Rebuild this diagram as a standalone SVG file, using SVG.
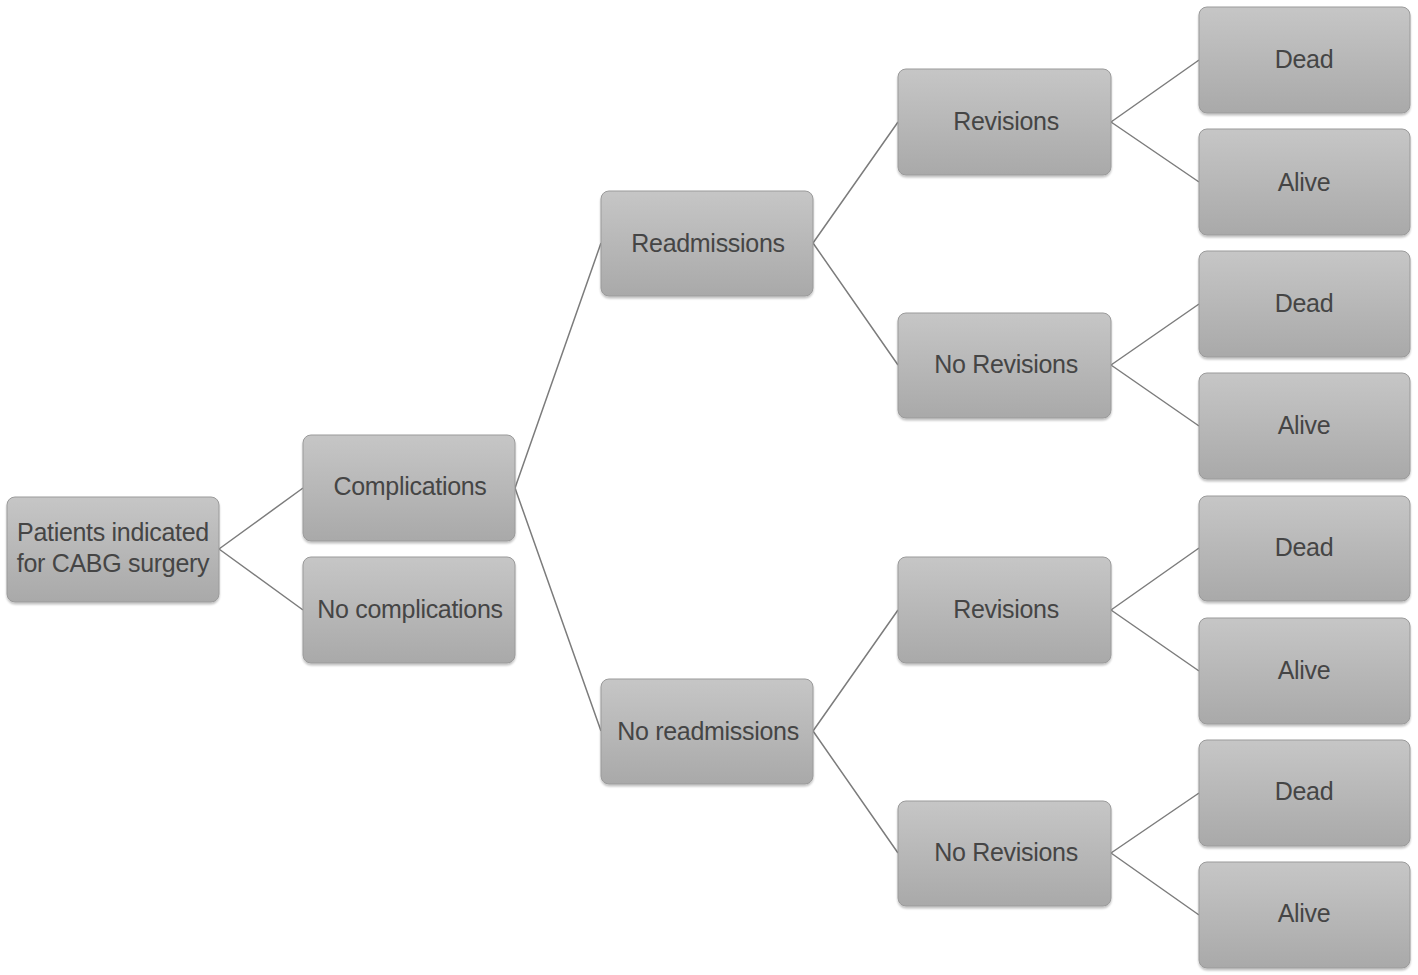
<svg xmlns="http://www.w3.org/2000/svg" width="1418" height="975" viewBox="0 0 1418 975">
<defs>
<linearGradient id="g" x1="0" y1="0" x2="0" y2="1">
<stop offset="0" stop-color="#c6c6c6"/>
<stop offset="1" stop-color="#a9a9a9"/>
</linearGradient>
<filter id="sh" x="-5%" y="-5%" width="110%" height="115%">
<feGaussianBlur in="SourceAlpha" stdDeviation="1.2"/>
<feOffset dx="0" dy="1.5"/>
<feComponentTransfer><feFuncA type="linear" slope="0.25"/></feComponentTransfer>
<feMerge><feMergeNode/><feMergeNode in="SourceGraphic"/></feMerge>
</filter>
</defs>
<style>
.box{fill:url(#g);stroke:#9a9a9a;stroke-width:1;filter:url(#sh)}
.t{font-family:"Liberation Sans",Arial,sans-serif;font-size:25px;fill:#454545;text-anchor:middle;letter-spacing:-0.3px}
.c{stroke:#7c7c7c;stroke-width:1.5;fill:none}
</style>
<rect width="1418" height="975" fill="#ffffff"/>
<g id="connectors">
<path class="c" d="M219 549L303 488M219 549L303 610"/>
<path class="c" d="M515 488L601 243M515 488L601 731"/>
<path class="c" d="M813 243L898 122M813 243L898 365"/>
<path class="c" d="M813 731L898 610M813 731L898 853"/>
<path class="c" d="M1111 122L1199 60M1111 122L1199 182"/>
<path class="c" d="M1111 365L1199 304M1111 365L1199 426"/>
<path class="c" d="M1111 610L1199 548M1111 610L1199 671"/>
<path class="c" d="M1111 853L1199 793M1111 853L1199 915"/>
</g>
<g id="n-root"><rect class="box" x="7" y="497" width="212" height="105" rx="8"/><text class="t" x="113" y="541">Patients indicated</text><text class="t" x="113" y="572">for CABG surgery</text></g>
<g id="n-comp"><rect class="box" x="303" y="435" width="212" height="106" rx="8"/><text class="t" x="410" y="495">Complications</text></g>
<g id="n-nocomp"><rect class="box" x="303" y="557" width="212" height="106" rx="8"/><text class="t" x="410" y="618">No complications</text></g>
<g id="n-readm"><rect class="box" x="601" y="191" width="212" height="105" rx="8"/><text class="t" x="708" y="252">Readmissions</text></g>
<g id="n-noreadm"><rect class="box" x="601" y="679" width="212" height="105" rx="8"/><text class="t" x="708" y="740">No readmissions</text></g>
<g id="n-rev1"><rect class="box" x="898" y="69" width="213" height="106" rx="8"/><text class="t" x="1006" y="130">Revisions</text></g>
<g id="n-norev1"><rect class="box" x="898" y="313" width="213" height="105" rx="8"/><text class="t" x="1006" y="373">No Revisions</text></g>
<g id="n-rev2"><rect class="box" x="898" y="557" width="213" height="106" rx="8"/><text class="t" x="1006" y="618">Revisions</text></g>
<g id="n-norev2"><rect class="box" x="898" y="801" width="213" height="105" rx="8"/><text class="t" x="1006" y="861">No Revisions</text></g>
<g id="n-d1"><rect class="box" x="1199" y="7" width="211" height="106" rx="8"/><text class="t" x="1304" y="68">Dead</text></g>
<g id="n-a1"><rect class="box" x="1199" y="129" width="211" height="106" rx="8"/><text class="t" x="1304" y="191">Alive</text></g>
<g id="n-d2"><rect class="box" x="1199" y="251" width="211" height="106" rx="8"/><text class="t" x="1304" y="312">Dead</text></g>
<g id="n-a2"><rect class="box" x="1199" y="373" width="211" height="106" rx="8"/><text class="t" x="1304" y="434">Alive</text></g>
<g id="n-d3"><rect class="box" x="1199" y="496" width="211" height="105" rx="8"/><text class="t" x="1304" y="556">Dead</text></g>
<g id="n-a3"><rect class="box" x="1199" y="618" width="211" height="106" rx="8"/><text class="t" x="1304" y="679">Alive</text></g>
<g id="n-d4"><rect class="box" x="1199" y="740" width="211" height="106" rx="8"/><text class="t" x="1304" y="800">Dead</text></g>
<g id="n-a4"><rect class="box" x="1199" y="862" width="211" height="106" rx="8"/><text class="t" x="1304" y="922">Alive</text></g>
</svg>
